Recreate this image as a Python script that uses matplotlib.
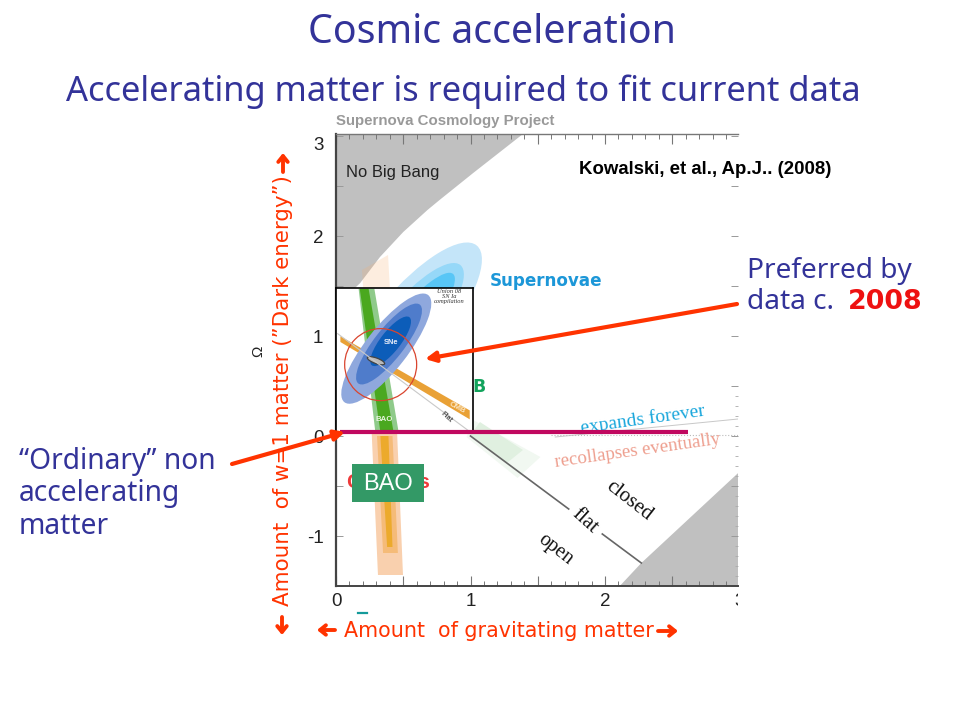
import matplotlib
matplotlib.use("Agg")
import matplotlib.pyplot as plt
from matplotlib.patches import Ellipse, Rectangle
from matplotlib.transforms import IdentityTransform, Bbox

# ---- data (main panel: Omega_m, Omega_Lambda) ----
no_big_bang_x = [0, 0, 0.18, 0.327, 0.50, 0.68, 0.77, 1.02, 1.39]
no_big_bang_y = [3.02, 1.30, 1.53, 1.79, 2.04, 2.26, 2.36, 2.63, 3.02]
recollapse_x = [2.11, 2.27, 2.99, 2.99]
recollapse_y = [-1.5, -1.27, -0.37, -1.5]
flat_x1 = [1.0, 1.73]
flat_y1 = [0.0, -0.73]
flat_x2 = [1.98, 2.27]
flat_y2 = [-0.98, -1.27]
bao_top_x = [0.193, 0.387, 0.44, 0.25]
bao_top_y = [1.66, 1.81, 0.5, 0.5]
bao_low_x = [0.25, 0.44, 0.498, 0.312]
bao_low_y = [0.5, 0.5, -1.39, -1.39]
bao_mid_x = [0.305, 0.42, 0.46, 0.35]
bao_mid_y = [0.0, 0.0, -1.17, -1.17]
bao_core_x = [0.33, 0.39, 0.42, 0.38]
bao_core_y = [0.0, 0.0, -1.11, -1.11]
cmb_out_x = [1.02, 1.52, 1.35, 0.97]
cmb_out_y = [0.16, -0.21, -0.42, -0.01]
cmb_in_x = [1.07, 1.39, 1.27, 1.0]
cmb_in_y = [0.14, -0.14, -0.27, 0.01]
sn_center = (0.545, 1.10)
sn_sizes = [(210, 70), (159, 50), (136, 34)]
sn_colors = ["#c4e5f9", "#96d8f8", "#58c6f6"]
exp_x = [1.63, 2.99]
exp_y = [-0.01, 0.17]
dot_x = [1.6, 2.99]
dot_y = [0.01, 0.01]

# ---- inset panel (fractions of its own axes) ----
in_green_out_x = [0.165, 0.28, 0.457, 0.287]
in_green_out_y = [0.995, 0.995, 0, 0]
in_green_core_x = [0.173, 0.238, 0.42, 0.324]
in_green_core_y = [0.995, 0.995, 0, 0]
in_cmb_x = [0.032, 0.976, 0.976, 0.032]
in_cmb_y = [0.665, 0.15, 0.088, 0.625]
in_flat_x = [0.012, 0.98]
in_flat_y = [0.683, 0.0]
in_centers = [(0.367, 0.579), (0.387, 0.611), (0.399, 0.63)]
in_sizes = [(136, 42), (100, 30), (61, 20)]
in_colors = ["#8fa8dd", "#4f7ccb", "#0c5db9"]
fit_center = (0.292, 0.495)
circle_center = (0.326, 0.468)

x_ticks = [0, 1, 2]
y_ticks = [2, 1, 0, -1]

NAVY = "#333399"
RED = "#ff3300"
fig = plt.figure(figsize=(9.6, 7.2), dpi=100, facecolor="white")
W, H = 960.0, 720.0


def axpx(l, t, r, b, **kw):
    return fig.add_axes([l / W, 1 - b / H, (r - l) / W, (b - t) / H], **kw)


def ell(ax, c, w, h, ang, **kw):
    p = ax.transData.transform(c)
    e = Ellipse(p, w, h, angle=ang, transform=IdentityTransform(), **kw)
    ax.add_patch(e)
    e.set_transform(IdentityTransform())
    e.set_clip_path(ax.patch)
    return e


# ---------- main panel ----------
ax = axpx(336, 134, 738, 586)
ax.set_zorder(1)
ax.set_xlim(0, 402 / 134.5)
ax.set_ylim(-1.5, 3.02)
ax.fill(no_big_bang_x, no_big_bang_y, color="#c0c0c0", lw=0)
ax.fill(recollapse_x, recollapse_y, color="#c0c0c0", lw=0)
ax.fill(bao_top_x, bao_top_y, color="#f8b070", alpha=0.22, lw=0)
ax.fill(bao_low_x, bao_low_y, color="#f9d0ae", lw=0)
ax.fill(bao_mid_x, bao_mid_y, color="#f5bb78", lw=0)
ax.fill(bao_core_x, bao_core_y, color="#ecaa2c", lw=0)
ax.fill(cmb_out_x, cmb_out_y, color="#f1f8f1", lw=0)
ax.fill(cmb_in_x, cmb_in_y, color="#e0f0e0", lw=0)
for s, c in zip(sn_sizes, sn_colors):
    ell(ax, sn_center, s[0], s[1], 50, color=c, lw=0)
ax.plot(flat_x1, flat_y1, color="#666666", lw=1.2)
ax.plot(flat_x2, flat_y2, color="#666666", lw=1.2)
ax.plot(exp_x, exp_y, color="#c8c8c8", lw=0.7)
ax.plot(dot_x, dot_y, color="#bbbbbb", lw=0.8, ls=":")

ax.spines["right"].set_visible(False)
ax.spines["left"].set_linewidth(1.6)
ax.spines["left"].set_color("#444444")
ax.spines["bottom"].set_linewidth(1.4)
ax.spines["bottom"].set_color("#444444")
ax.spines["top"].set_linewidth(1.0)
ax.spines["top"].set_color("#777777")

ax.set_xticks([0.5 * i for i in range(0, 6)])
ax.set_xticks([0.1 * i for i in range(0, 30)], minor=True)
ax.set_yticks([-1.5 + 0.5 * i for i in range(0, 10)])
ax.set_yticks([-1.5 + 0.1 * i for i in range(0, 21)], minor=True)
ax.tick_params(axis="x", which="major", direction="in", length=7.5, top=True, bottom=True,
               labelbottom=False, color="#777777", width=0.8)
ax.tick_params(axis="x", which="minor", direction="in", length=3.5, top=True, bottom=True,
               color="#777777", width=0.7)
ax.tick_params(axis="y", which="major", direction="in", length=5, left=True, right=True,
               labelleft=False, color="#999999", width=0.7)
ax.tick_params(axis="y", which="minor", direction="in", length=2, left=False, right=True,
               color="#aaaaaa", width=0.6)

SANS = "Liberation Sans"
SERIF = "Liberation Serif"
ax.text(0.425, 2.635, "No Big Bang", family=SANS, fontsize=11.9, ha="center", va="center", color="#222222")
ax.text(1.56, 1.55, "Supernovae", family="DejaVu Sans", weight="bold", fontsize=12.1, color="#1c97d8",
        ha="center", va="center")
ax.text(1.06, 0.49, "B", family="DejaVu Sans", weight="bold", fontsize=12.5, color="#12a35c",
        ha="center", va="center")
ax.text(0.385, -0.46, "Clusters", family=SANS, weight="bold", fontsize=15, color="#ee3a3a",
        ha="center", va="center")
ax.text(2.28, 0.17, "expands forever", family=SERIF, fontsize=14, color="#1aa7dc",
        ha="center", va="center", rotation=8)
ax.text(2.24, -0.15, "recollapses eventually", family=SERIF, fontsize=13.6, color="#ee9f8f",
        ha="center", va="center", rotation=8)
ax.text(2.18, -0.65, "closed", family=SERIF, fontsize=15, color="#111111",
        ha="center", va="center", rotation=-38)
ax.text(1.85, -0.85, "flat", family=SERIF, fontsize=15, color="#111111",
        ha="center", va="center", rotation=-42)
ax.text(1.63, -1.14, "open", family=SERIF, fontsize=14.5, color="#111111",
        ha="center", va="center", rotation=-38)

# tick numbers of the main panel
for v in x_ticks:
    ax.annotate(str(v), (v, 0), xycoords=("data", "axes fraction"), xytext=(0, -11), textcoords="offset points",
                family=SANS, fontsize=13.5, ha="center", va="center", color="#222222", annotation_clip=False)
t3 = ax.annotate("3", (3, 0), xycoords=("data", "axes fraction"), xytext=(0, -11), textcoords="offset points",
                 family=SANS, fontsize=13.5, ha="center", va="center", color="#222222", annotation_clip=False)
t3.set_clip_box(Bbox.from_extents(0, 0, 738, 720))
t3.set_clip_on(True)
for v in y_ticks:
    ax.annotate(str(v), (0, v), xycoords=("axes fraction", "data"), xytext=(-9, -2),
                textcoords="offset points", family=SANS, fontsize=13.5, ha="right", va="center", color="#222222",
                annotation_clip=False)
ax.annotate("3", (0, 2.93), xycoords=("axes fraction", "data"), xytext=(-9, -2), textcoords="offset points",
            family=SANS, fontsize=13.5, ha="right", va="center", color="#222222", annotation_clip=False)

# ---------- inset ----------
ins = axpx(336, 288, 473, 432)
ins.set_zorder(2)
ins.set_xlim(0, 1)
ins.set_ylim(0, 1)
ins.set_xticks([])
ins.set_yticks([])
for s in ins.spines.values():
    s.set_linewidth(1.2)
    s.set_color("black")
ins.plot(in_flat_x, in_flat_y, color="#c9c9c9", lw=0.8)
ins.fill(in_cmb_x, in_cmb_y, color="#e9a136", lw=0)
ins.fill(in_green_out_x, in_green_out_y, color="#8fca8a", lw=0)
ins.fill(in_green_core_x, in_green_core_y, color="#4aa81f", lw=0)
for c, s, col in zip(in_centers, in_sizes, in_colors):
    ell(ins, c, s[0], s[1], 52, color=col, lw=0)
ell(ins, fit_center, 18.3, 5.5, -20, facecolor="#b9b9b9", edgecolor="#444444", lw=0.9)
ell(ins, circle_center, 72, 72, 0, facecolor="none", edgecolor="#d9452f", lw=0.9)
ins.text(0.40, 0.62, "SNe", family=SANS, weight="bold", fontsize=5.4, color="#e8eefa", ha="center", va="center")
ins.text(0.35, 0.085, "BAO", family=SANS, weight="bold", fontsize=5.6, color="#e8f5e0", ha="center", va="center")
ins.text(0.885, 0.17, "CMB", family=SANS, weight="bold", fontsize=5.6, color="#fbe8c8", ha="center", va="center", rotation=-28)
ins.text(0.805, 0.10, "Flat", family=SANS, weight="bold", fontsize=5.2, color="#555555", ha="center", va="center", rotation=-42)
ins.text(0.825, 0.94, "Union 08\nSN Ia\ncompilation", family=SERIF, style="italic", fontsize=4.6,
         color="#333333", ha="center", va="center", linespacing=1.0)

# ---------- slide layer, in picture pixels ----------
ov = fig.add_axes([0, 0, 1, 1], zorder=3)
ov.set_xlim(0, W)
ov.set_ylim(H, 0)
ov.axis("off")
ov.patch.set_alpha(0)

TF = "Noto Sans"
DV = "DejaVu Sans"
ov.text(491.5, 33, "Cosmic acceleration", family=TF, fontsize=28.3, color=NAVY, ha="center", va="center")
ov.text(463.5, 92, "Accelerating matter is required to fit current data", family=TF, fontsize=24.85,
        color=NAVY, ha="center", va="center")
ov.text(336, 121, "Supernova Cosmology Project", family=SANS, weight="bold", fontsize=10.8, color="#999999",
        ha="left", va="center")
ov.text(579, 169, "Kowalski, et al., Ap.J.. (2008)", family=SANS, weight="bold", fontsize=13.4, color="black",
        ha="left", va="center")
ov.text(747, 271, "Preferred by", family=TF, fontsize=20.2, color=NAVY, ha="left", va="center")
ov.text(747, 302, "data c. ", family=TF, fontsize=20.2, color=NAVY, ha="left", va="center")
ov.text(848, 302, "2008", family=DV, weight="bold", fontsize=19.4, color="#ee1111", ha="left", va="center")
ov.text(19, 462, "\u201cOrdinary\u201d non", family=TF, fontsize=20.3, color=NAVY, ha="left", va="center")
ov.text(19, 494, "accelerating", family=TF, fontsize=20.3, color=NAVY, ha="left", va="center")
ov.text(19, 526, "matter", family=TF, fontsize=20.3, color=NAVY, ha="left", va="center")

ov.text(258, 351, "\u03a9", family=SANS, fontsize=11, rotation=90, color="#222222", ha="center", va="center")
ov.add_patch(Rectangle((352, 464), 72, 38, color="#339966", lw=0))
ov.text(388, 483.5, "BAO", family=SANS, fontsize=17, color="white", ha="center", va="center")
ov.plot([340, 688], [432, 432], color="#c0085f", lw=3, solid_capstyle="butt")
for tail, tip in (((737, 304), (425, 359)), ((232, 464), (345, 432))):
    ov.annotate("", xy=tip, xytext=tail, arrowprops=dict(arrowstyle="-|>,head_length=0.6,head_width=0.3",
                color=RED, lw=3, shrinkA=0, shrinkB=0))
ov.plot([358, 367], [613, 613], color="#149a9a", lw=1.6)

ov.text(344, 631, "Amount  of gravitating matter", family=DV, fontsize=14.9, color=RED, ha="left", va="center")
ov.text(283, 391, "Amount  of w=1 matter (\u201dDark energy\u201d)", family=DV, fontsize=15.4, color=RED,
        ha="center", va="center", rotation=90)
for tail, tip in (((335, 630), (317, 630)), ((658, 631), (678, 631)),
                  ((282, 617), (282, 635)), ((283, 172), (283, 153))):
    ov.annotate("", xy=tip, xytext=tail, arrowprops=dict(arrowstyle="->,head_length=0.42,head_width=0.34",
                color=RED, lw=2.8, shrinkA=0, shrinkB=0))

fig.savefig("out.png", dpi=100)
